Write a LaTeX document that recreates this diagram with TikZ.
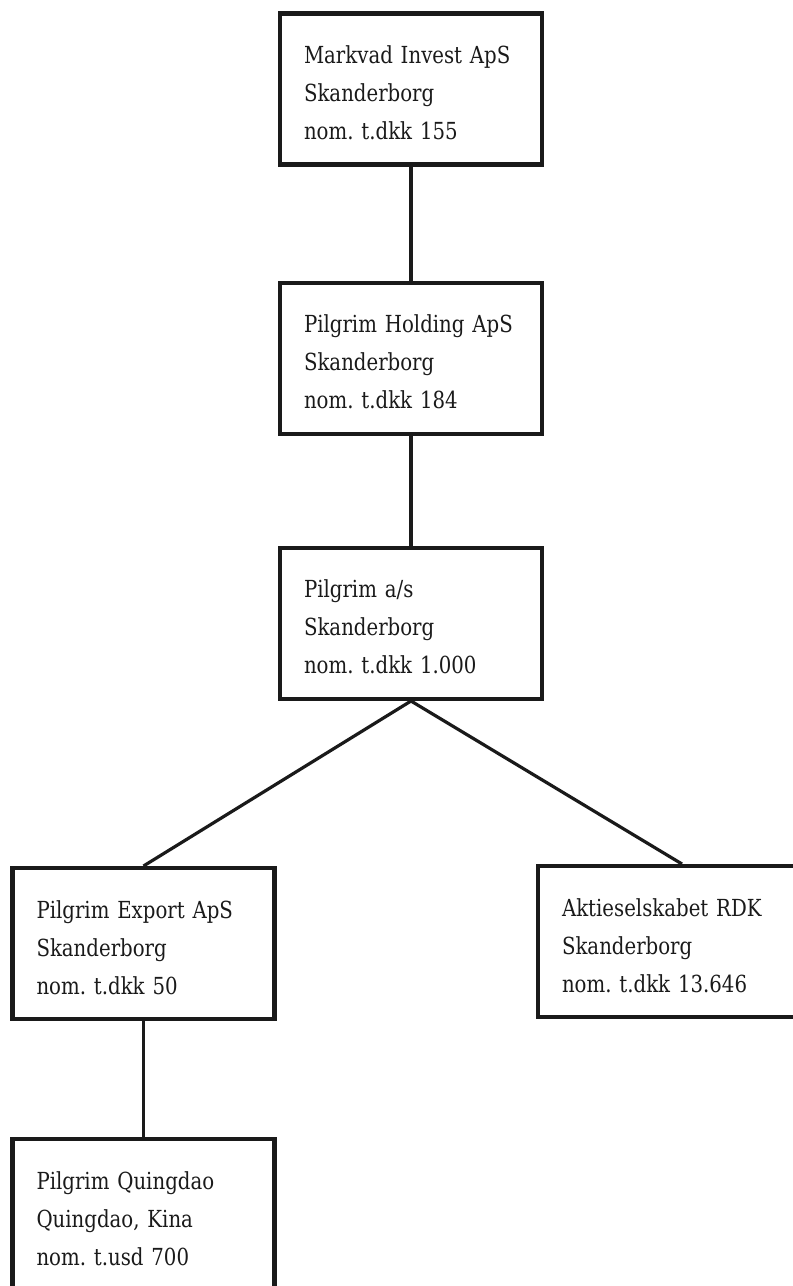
\documentclass[tikz,border=0pt]{standalone}
\usepackage{fontspec}
\setmainfont{DejaVu Serif}[FakeStretch=0.84]
\usepackage{tikz}
\usetikzlibrary{positioning}
\definecolor{Ink}{HTML}{1A1A1A}
\newcommand\topstrut{\rule{0pt}{30pt}}
\newcommand\botstrut{\rule[-5pt]{0pt}{5pt}}
\frenchspacing

\begin{document}
\begin{tikzpicture}[x=1pt,y=1pt,
    font=\fontsize{23.5}{38}\selectfont,
    org/.style={draw=Ink,line width=4.2pt,minimum width=262pt,minimum height=151pt,
      inner xsep=24pt,inner ysep=2pt,text width=214pt,align=left,text=Ink,
      execute at begin node=\topstrut,execute at end node=\botstrut},
    link/.style={draw=Ink,line width=3.2pt}]
  \clip (0,0) rectangle (793,-1286);
  \node[org] (b1) at (411,-89) {Markvad Invest ApS\\Skanderborg\\nom. t.dkk 155};
  \node[org, below=114pt of b1] (b2) {Pilgrim Holding ApS\\Skanderborg\\nom. t.dkk 184};
  \node[org, below=110pt of b2] (b3) {Pilgrim a/s\\Skanderborg\\nom. t.dkk 1.000};
  % datterselskaber
  \node[org, below=165pt of b3, xshift=-267.5pt] (b4) {Pilgrim Export ApS\\Skanderborg\\nom. t.dkk 50};
  \node[org, minimum width=288pt, text width=240pt, below=163pt of b3, xshift=271pt] (b5)
    {Aktieselskabet RDK\\Skanderborg\\nom. t.dkk 13.646};
  \node[org, below=116pt of b4] (b6) {Pilgrim Quingdao\\Quingdao, Kina\\nom. t.usd 700};
  \draw[link] (b1) -- (b2);
  \draw[link] (b2) -- (b3);
  \draw[link] (b3.south) -- (b4.north);
  \draw[link] (b3.south) -- (b5.north);
  \draw[link] (b4) -- (b6);
\end{tikzpicture}
\end{document}
